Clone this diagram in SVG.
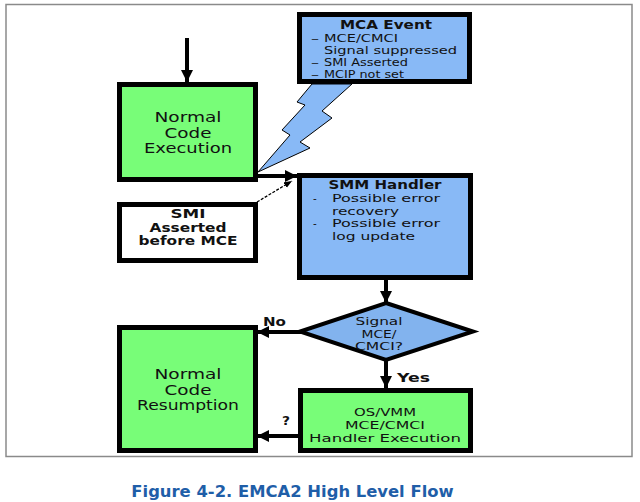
<svg xmlns="http://www.w3.org/2000/svg" width="640" height="502" viewBox="0 0 640 502">
<defs>
<style>
text{font-family:"DejaVu Sans","Verdana",sans-serif;fill:#111;}
.big{font-size:14px;text-anchor:middle;}
.mid{font-size:10.4px;}
.ttl{font-size:12.5px;font-weight:bold;text-anchor:middle;}
.smi{font-size:11.4px;font-weight:bold;text-anchor:middle;}
.os{font-size:11px;text-anchor:middle;}
.lbl{font-size:12px;font-weight:bold;}
.c{text-anchor:middle;}
.box{stroke:#000;stroke-width:5;}
.green{fill:#78fd78;}
.blue{fill:#88b9f6;}
.thick{stroke:#000;stroke-width:4;fill:none;}
.thin{stroke:#000;stroke-width:1.3;fill:none;stroke-dasharray:3 1.5;}
.cap{font-size:16.4px;font-weight:bold;fill:#1f5ea8;text-anchor:middle;}
</style>
<marker id="ah" viewBox="0 0 12 12" refX="12" refY="6" markerWidth="12" markerHeight="12" markerUnits="userSpaceOnUse" orient="auto">
<path d="M0,0 L12,6 L0,12 Z" fill="#000"/>
</marker>
<marker id="ahs" viewBox="0 0 10 8" refX="10" refY="4" markerWidth="8" markerHeight="7" markerUnits="userSpaceOnUse" orient="auto">
<path d="M0,0 L10,4 L0,8 Z" fill="#000"/>
</marker>
</defs>
<rect x="0" y="0" width="640" height="502" fill="#fff"/>
<rect x="6" y="4.5" width="626" height="452" fill="none" stroke="#8a8a8a" stroke-width="1.5"/>

<g id="bolt">
<polygon points="312,84 297,102 305,105 282,130 290,135 258,172 310,148 300,142 332,118 322,111 352,84" fill="#88b9f6" stroke="#000" stroke-width="1"/>
</g>

<g id="connectors">
<line class="thick" x1="187" y1="38" x2="187" y2="82" marker-end="url(#ah)"/>
<line class="thick" x1="256" y1="176" x2="297" y2="176" marker-end="url(#ah)"/>
<line class="thin" x1="257" y1="202" x2="292" y2="181" marker-end="url(#ahs)"/>
<line class="thick" x1="386" y1="280" x2="386" y2="303" marker-end="url(#ah)"/>
<line class="thick" x1="301" y1="332" x2="257" y2="332" marker-end="url(#ah)"/>
<line class="thick" x1="386" y1="359" x2="386" y2="388" marker-end="url(#ah)"/>
<line class="thick" x1="298" y1="436" x2="257" y2="436" marker-end="url(#ah)"/>
<text class="lbl" x="263" y="326" textLength="23" lengthAdjust="spacingAndGlyphs">No</text>
<text class="lbl" x="397" y="382" textLength="33" lengthAdjust="spacingAndGlyphs">Yes</text>
<text class="lbl" x="282" y="425" textLength="8" lengthAdjust="spacingAndGlyphs">?</text>
</g>

<g id="normal-exec">
<rect class="box green" x="119.5" y="84.5" width="136" height="95"/>
<text class="big" x="188" y="122" textLength="67" lengthAdjust="spacingAndGlyphs">Normal</text>
<text class="big" x="188" y="137.5" textLength="47" lengthAdjust="spacingAndGlyphs">Code</text>
<text class="big" x="188" y="153" textLength="88" lengthAdjust="spacingAndGlyphs">Execution</text>
</g>

<g id="mca-event">
<rect class="box blue" x="299.5" y="14.5" width="170" height="67"/>
<text class="ttl" x="386" y="29" textLength="92" lengthAdjust="spacingAndGlyphs">MCA Event</text>
<text class="mid" x="311" y="42" textLength="8" lengthAdjust="spacingAndGlyphs">–</text>
<text class="mid" x="324" y="42" textLength="74" lengthAdjust="spacingAndGlyphs">MCE/CMCI</text>
<text class="mid" x="324" y="54" textLength="133" lengthAdjust="spacingAndGlyphs">Signal suppressed</text>
<text class="mid" x="311" y="66" textLength="8" lengthAdjust="spacingAndGlyphs">–</text>
<text class="mid" x="324" y="66" textLength="84" lengthAdjust="spacingAndGlyphs">SMI Asserted</text>
<text class="mid" x="311" y="78" textLength="8" lengthAdjust="spacingAndGlyphs">–</text>
<text class="mid" x="324" y="78" textLength="80" lengthAdjust="spacingAndGlyphs">MCIP not set</text>
</g>

<g id="smm-handler">
<rect class="box blue" x="299.5" y="175.5" width="171" height="102"/>
<text class="ttl" x="385" y="189" textLength="113" lengthAdjust="spacingAndGlyphs">SMM Handler</text>
<text class="mid" x="313" y="202">-</text>
<text class="mid" x="332" y="202" textLength="108" lengthAdjust="spacingAndGlyphs">Possible error</text>
<text class="mid" x="332" y="214.5" textLength="67" lengthAdjust="spacingAndGlyphs">recovery</text>
<text class="mid" x="313" y="227">-</text>
<text class="mid" x="332" y="227" textLength="108" lengthAdjust="spacingAndGlyphs">Possible error</text>
<text class="mid" x="332" y="239.5" textLength="83" lengthAdjust="spacingAndGlyphs">log update</text>
</g>

<g id="smi-asserted">
<rect class="box" fill="#fff" x="119.5" y="204.5" width="136" height="56"/>
<text class="smi" x="188" y="218" textLength="35" lengthAdjust="spacingAndGlyphs">SMI</text>
<text class="smi" x="188" y="231.5" textLength="77" lengthAdjust="spacingAndGlyphs">Asserted</text>
<text class="smi" x="188" y="245" textLength="99" lengthAdjust="spacingAndGlyphs">before MCE</text>
</g>

<g id="decision">
<polygon points="386,303 473,331.5 386,360 300,331.5" fill="#82b3ee" stroke="#000" stroke-width="4" stroke-linejoin="miter"/>
<text class="mid c" x="379" y="325" textLength="47" lengthAdjust="spacingAndGlyphs">Signal</text>
<text class="mid c" x="379" y="337.5" textLength="35" lengthAdjust="spacingAndGlyphs">MCE/</text>
<text class="mid c" x="379" y="350" textLength="48" lengthAdjust="spacingAndGlyphs">CMCI?</text>
</g>

<g id="normal-resume">
<rect class="box green" x="119.5" y="327.5" width="136" height="123"/>
<text class="big" x="188" y="379" textLength="67" lengthAdjust="spacingAndGlyphs">Normal</text>
<text class="big" x="188" y="394.5" textLength="47" lengthAdjust="spacingAndGlyphs">Code</text>
<text class="big" x="188" y="410" textLength="102" lengthAdjust="spacingAndGlyphs">Resumption</text>
</g>

<g id="os-handler">
<rect class="box green" x="300.5" y="390.5" width="170" height="60"/>
<text class="os" x="385" y="416" textLength="62" lengthAdjust="spacingAndGlyphs">OS/VMM</text>
<text class="os" x="385" y="429" textLength="80" lengthAdjust="spacingAndGlyphs">MCE/CMCI</text>
<text class="os" x="385" y="442" textLength="152" lengthAdjust="spacingAndGlyphs">Handler Execution</text>
</g>

<text class="cap" x="292.5" y="497">Figure 4-2. EMCA2 High Level Flow</text>
</svg>
